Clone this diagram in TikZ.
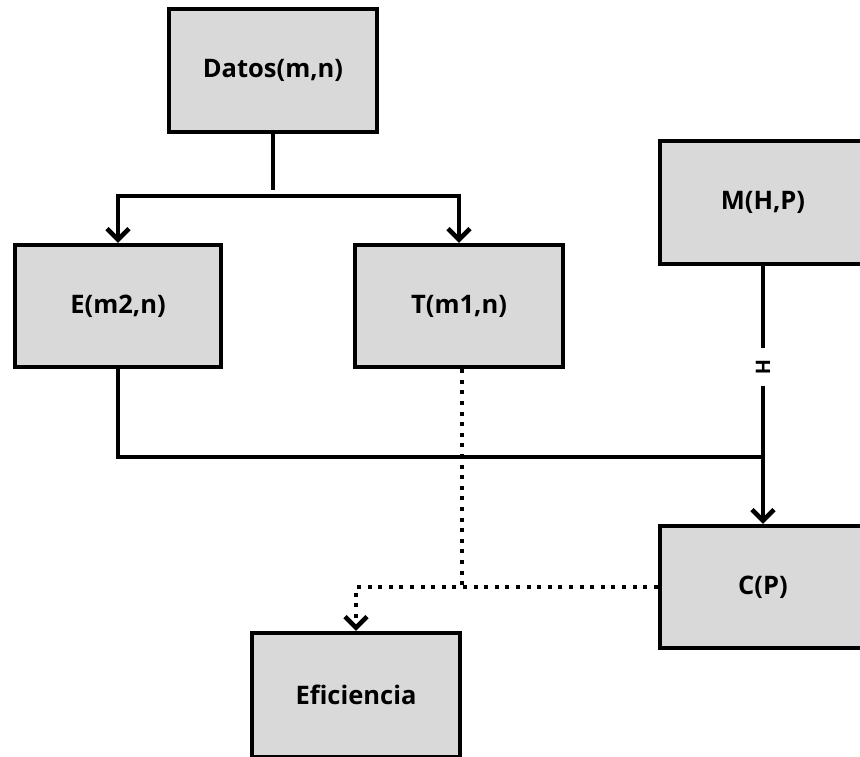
\documentclass[tikz,border=0pt]{standalone}
\usepackage{fontspec}
\setmainfont{Open Sans}
\usetikzlibrary{arrows.meta}
\begin{document}
\begin{tikzpicture}[x=1pt,y=-1pt,
  box/.style={draw=black, line width=4.5pt, fill=boxgray, rectangle,
    font=\fontsize{25.5}{29}\selectfont\bfseries, inner sep=0pt},
  link/.style={line width=4.5pt},
  tipped/.style={-{Straight Barb[length=11pt,width=22pt]}},
  dotline/.style={line width=4.5pt, dash pattern=on 4pt off 6.6pt},
  hlabel/.style={fill=white, rotate=-90, inner sep=0pt, minimum width=38pt,
    minimum height=12pt, font=\fontsize{20}{22}\selectfont\bfseries}]
\definecolor{boxgray}{HTML}{D9D9D9}
\useasboundingbox (0,0) rectangle (860,756);

% boxes
\node[box, minimum width=208pt, minimum height=123pt] (datos) at (273,70.5) {Datos(m,n)};
\node[box, minimum width=206pt, minimum height=122pt] (e) at (118,306) {E(m2,n)};
\node[box, minimum width=208pt, minimum height=122pt] (t) at (459,306) {T(m1,n)};
\node[box, minimum width=206pt, minimum height=123pt] (m) at (763,202.5) {M(H,P)};
\node[box, minimum width=206pt, minimum height=122pt] (c) at (763,587) {C(P)};
\node[box, minimum width=208pt, minimum height=124pt] (f) at (356,695) {Eficiencia};

% junction points
\coordinate (stem) at (273,190);
\coordinate (split) at (273,196);
\coordinate (meet) at (762,457);
\coordinate (dj) at (462,586);

% Datos splits into E and T
\draw[link] (datos.south) -- (stem);
\draw[link, tipped] (split) -| (e.north);
\draw[link, tipped] (split) -| (t.north);

% M feeds C, E joins the same line
\draw[link, tipped] (m.south) -- node[hlabel, pos=0.39] {H} (c.north);
\draw[link] (e.south) |- (meet);

% dotted links towards Eficiencia
\draw[dotline] (t.south -| dj) -- (dj);
\draw[dotline, tipped] (c.west) -| (f.north);
\end{tikzpicture}
\end{document}
